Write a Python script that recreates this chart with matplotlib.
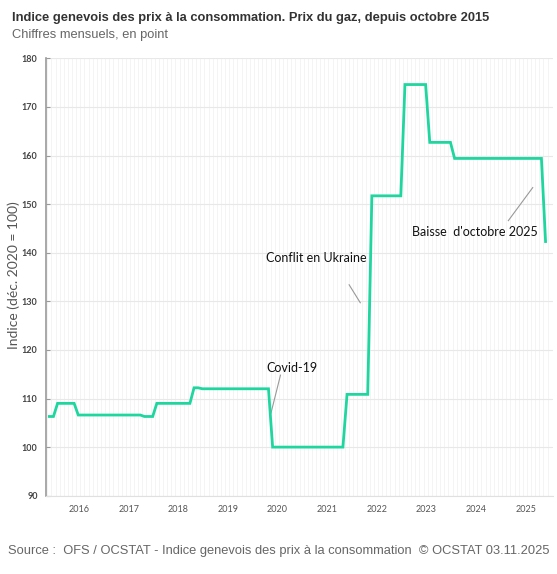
import matplotlib
matplotlib.use('Agg')
import matplotlib.pyplot as plt
import numpy as np

# monthly gas price index, Oct 2015 .. Oct 2025 (dec. 2020 = 100)
values_2015 = [106.3, 106.3, 109.0]
values_2016 = [109.0, 109.0, 109.0, 109.0, 106.6, 106.6, 106.6, 106.6, 106.6, 106.6, 106.6, 106.6]
values_2017 = [106.6, 106.6, 106.6, 106.6, 106.6, 106.6, 106.6, 106.6, 106.3, 106.3, 106.3, 109.0]
values_2018 = [109.0, 109.0, 109.0, 109.0, 109.0, 109.0, 109.0, 109.0, 112.2, 112.2, 112.0, 112.0]
values_2019 = [112.0, 112.0, 112.0, 112.0, 112.0, 112.0, 112.0, 112.0, 112.0, 112.0, 112.0, 112.0]
values_2020 = [112.0, 112.0, 112.0, 100.0, 100.0, 100.0, 100.0, 100.0, 100.0, 100.0, 100.0, 100.0]
values_2021 = [100.0, 100.0, 100.0, 100.0, 100.0, 100.0, 100.0, 100.0, 100.0, 110.85, 110.85, 110.85]
values_2022 = [110.85, 110.85, 110.85, 151.7, 151.7, 151.7, 151.7, 151.7, 151.7, 151.7, 151.7, 174.6]
values_2023 = [174.6, 174.6, 174.6, 174.6, 174.6, 162.7, 162.7, 162.7, 162.7, 162.7, 162.7, 159.4]
values_2024 = [159.4, 159.4, 159.4, 159.4, 159.4, 159.4, 159.4, 159.4, 159.4, 159.4, 159.4, 159.4]
values_2025 = [159.4, 159.4, 159.4, 159.4, 159.4, 159.4, 159.4, 159.4, 159.4, 142.3]

values = (values_2015 + values_2016 + values_2017 + values_2018 + values_2019 + values_2020
          + values_2021 + values_2022 + values_2023 + values_2024 + values_2025)
years = ['2016', '2017', '2018', '2019', '2020', '2021', '2022', '2023', '2024', '2025']

x = np.arange(len(values))

fig = plt.figure(figsize=(5.57, 5.74), dpi=100)
ax = fig.add_axes([46 / 557, 1 - 495.7 / 574, 507 / 557, (495.7 - 58.3) / 574])

ax.plot(x, values, color='#1fd69f', linewidth=2.0, solid_joinstyle='miter', zorder=3)

ax.set_ylim(90, 180)
ax.set_yticks(range(90, 181, 10))
ax.set_xlim(-0.8, 121.8)

# year labels sit roughly in May of each year
ax.set_xticks([7.2 + 12 * i for i in range(len(years))])
ax.set_xticklabels(years)
ax.set_xticks(np.arange(-0.5, 121.5, 1), minor=True)

ax.grid(axis='y', color='#e8e8e8', linewidth=0.8, zorder=0)
ax.grid(axis='x', which='minor', color='#f2f2f2', linewidth=0.6, zorder=0)
ax.grid(axis='x', which='major', visible=False)

for s in ['top', 'right']:
    ax.spines[s].set_visible(False)
ax.spines['bottom'].set_color('#e0e0e0')
ax.spines['left'].set_color('#9a9a9a')
ax.spines['left'].set_linewidth(1.2)

ax.tick_params(axis='y', direction='in', length=3, color='#9a9a9a', pad=6,
               labelsize=6.5, labelcolor='#444444')
ax.tick_params(axis='x', which='both', length=0, pad=7, labelsize=6.5, labelcolor='#555555')
for lbl in ax.get_yticklabels() + ax.get_xticklabels():
    lbl.set_family('Lato')
for lbl in ax.get_yticklabels():
    lbl.set_fontweight('bold')

ax.set_ylabel('Indice (déc. 2020 = 100)', fontsize=10, family='Lato', color='#555555')
ax.yaxis.set_label_coords(-0.052, 0.505)

# annotations
ax.text(58.7, 116.3, 'Covid-19', fontsize=9, family='Lato', ha='center', va='center', color='#111111')
ax.plot([55.9, 53.6], [114.8, 107.0], color='#999999', linewidth=0.8)

ax.text(64.5, 138.9, 'Conflit en Ukraine', fontsize=9, family='Lato', ha='center', va='center', color='#111111')
ax.plot([72.5, 75.2], [133.4, 129.7], color='#999999', linewidth=0.8)

ax.text(103.0, 144.3, 'Baisse  d\'octobre 2025', fontsize=9, family='Lato', ha='center', va='center', color='#111111')
ax.plot([111.0, 116.9], [146.6, 153.4], color='#999999', linewidth=0.8)

fig.text(12 / 557, 1 - 18 / 574, 'Indice genevois des prix à la consommation. Prix du gaz, depuis octobre 2015',
         fontsize=9.3, fontweight='bold', family='Liberation Sans', color='#333333', va='center')
fig.text(12 / 557, 1 - 35 / 574, 'Chiffres mensuels, en point',
         fontsize=9.3, family='Liberation Sans', color='#666666', va='center')
fig.text(8 / 557, 1 - 551 / 574,
         'Source :  OFS / OCSTAT - Indice genevois des prix à la consommation  © OCSTAT 03.11.2025',
         fontsize=9.3, family='Liberation Sans', color='#666666', va='center')

fig.savefig('out.png', dpi=100)
